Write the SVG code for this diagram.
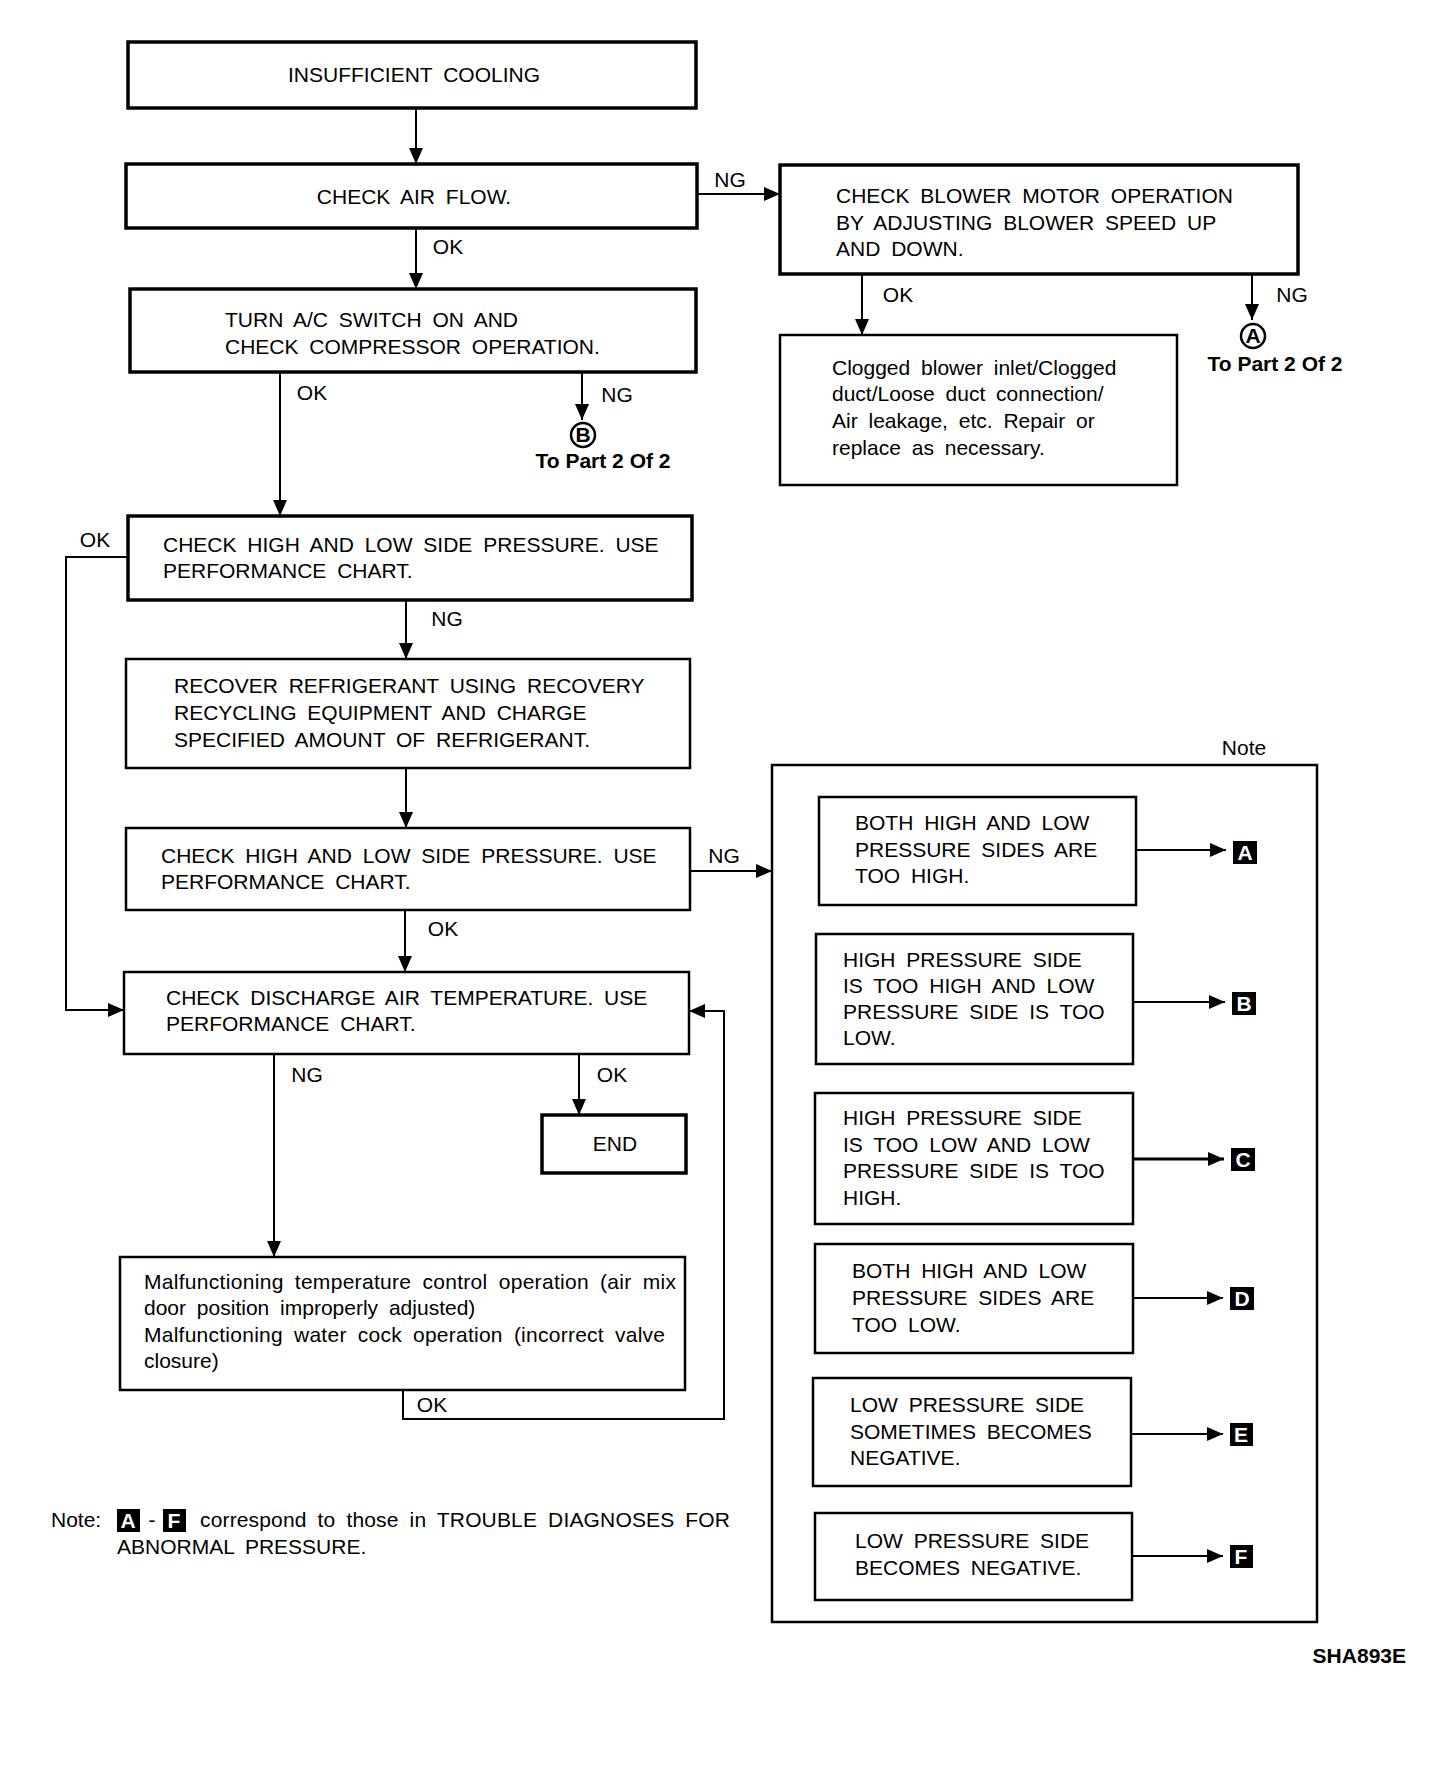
<svg xmlns="http://www.w3.org/2000/svg" width="1440" height="1768" viewBox="0 0 1440 1768">
<style>
text{font-family:"Liberation Sans",Arial,sans-serif;font-size:21px;fill:#000;word-spacing:5px}
.thick{fill:#fff;stroke:#000;stroke-width:3.5}
.med{fill:#fff;stroke:#000;stroke-width:2.5}
.frame{fill:none;stroke:#000;stroke-width:2.5}
.c{fill:none;stroke:#000;stroke-width:2}
.cb{fill:none;stroke:#000;stroke-width:3}
.mid{text-anchor:middle}
.bold{font-weight:bold;word-spacing:0}
.lb{fill:#000}
.lt{fill:#fff;font-weight:bold;font-size:21px;text-anchor:middle;word-spacing:0}
.circ{fill:#fff;stroke:#000;stroke-width:2.5}
</style>
<defs>
<marker id="ah" viewBox="0 0 16 14" refX="16" refY="7" markerWidth="16" markerHeight="14" markerUnits="userSpaceOnUse" orient="auto">
<path d="M0,0 L16,7 L0,14 z" fill="#000"/>
</marker>
</defs>
<rect width="1440" height="1768" fill="#fff"/>

<g id="n-insufficient">
<rect class="thick" x="128" y="42" width="568" height="66"/>
<text x="414" y="82" class="mid">INSUFFICIENT COOLING</text>
</g>
<g id="n-airflow">
<rect class="thick" x="126" y="164" width="571" height="64"/>
<text x="414" y="204" class="mid">CHECK AIR FLOW.</text>
</g>
<g id="n-blower">
<rect class="thick" x="780" y="165" width="518" height="109"/>
<text x="836" y="203">CHECK BLOWER MOTOR OPERATION</text>
<text x="836" y="230">BY ADJUSTING BLOWER SPEED UP</text>
<text x="836" y="256">AND DOWN.</text>
</g>
<g id="n-clogged">
<rect class="med" x="780" y="335" width="397" height="150"/>
<text x="832" y="375">Clogged blower inlet/Clogged</text>
<text x="832" y="401">duct/Loose duct connection/</text>
<text x="832" y="428">Air leakage, etc. Repair or</text>
<text x="832" y="455">replace as necessary.</text>
</g>
<g id="n-partA">
<circle class="circ" cx="1253" cy="336" r="12"/>
<text x="1253" y="343" class="mid bold" font-size="19">A</text>
<text x="1275" y="371" class="mid bold" font-size="20">To Part 2 Of 2</text>
</g>
<g id="n-turn">
<rect class="thick" x="130" y="289" width="566" height="83"/>
<text x="225" y="327">TURN A/C SWITCH ON AND</text>
<text x="225" y="354">CHECK COMPRESSOR OPERATION.</text>
</g>
<g id="n-partB">
<circle class="circ" cx="583" cy="435" r="12"/>
<text x="583" y="442" class="mid bold" font-size="19">B</text>
<text x="603" y="468" class="mid bold" font-size="20">To Part 2 Of 2</text>
</g>
<g id="n-hl1">
<rect class="thick" x="128" y="516" width="564" height="84"/>
<text x="163" y="552">CHECK HIGH AND LOW SIDE PRESSURE. USE</text>
<text x="163" y="578">PERFORMANCE CHART.</text>
</g>
<g id="n-recover">
<rect class="med" x="126" y="659" width="564" height="109"/>
<text x="174" y="693">RECOVER REFRIGERANT USING RECOVERY</text>
<text x="174" y="720">RECYCLING EQUIPMENT AND CHARGE</text>
<text x="174" y="747">SPECIFIED AMOUNT OF REFRIGERANT.</text>
</g>
<g id="n-hl2">
<rect class="med" x="126" y="828" width="564" height="82"/>
<text x="161" y="863">CHECK HIGH AND LOW SIDE PRESSURE. USE</text>
<text x="161" y="889">PERFORMANCE CHART.</text>
</g>
<g id="n-discharge">
<rect class="med" x="124" y="972" width="565" height="82"/>
<text x="166" y="1005">CHECK DISCHARGE AIR TEMPERATURE. USE</text>
<text x="166" y="1031">PERFORMANCE CHART.</text>
</g>
<g id="n-end">
<rect class="thick" x="542" y="1115" width="144" height="58"/>
<text x="615" y="1151" class="mid">END</text>
</g>
<g id="n-malfunction">
<rect class="med" x="120" y="1257" width="565" height="133"/>
<text x="144" y="1289" textLength="532" lengthAdjust="spacing">Malfunctioning temperature control operation (air mix</text>
<text x="144" y="1315">door position improperly adjusted)</text>
<text x="144" y="1342" textLength="521" lengthAdjust="spacing">Malfunctioning water cock operation (incorrect valve</text>
<text x="144" y="1368">closure)</text>
</g>

<g id="n-note">
<rect class="frame" x="772" y="765" width="545" height="857"/>
<text x="1244" y="755" class="mid" font-size="18">Note</text>
</g>
<g id="n-a">
<rect class="med" x="819" y="797" width="317" height="108"/>
<text x="855" y="830">BOTH HIGH AND LOW</text>
<text x="855" y="857">PRESSURE SIDES ARE</text>
<text x="855" y="883">TOO HIGH.</text>
<rect class="lb" x="1233" y="841" width="24" height="23"/>
<text x="1245" y="860" class="lt">A</text>
</g>
<g id="n-b">
<rect class="med" x="816" y="934" width="317" height="130"/>
<text x="843" y="967">HIGH PRESSURE SIDE</text>
<text x="843" y="993">IS TOO HIGH AND LOW</text>
<text x="843" y="1019">PRESSURE SIDE IS TOO</text>
<text x="843" y="1045">LOW.</text>
<rect class="lb" x="1232" y="992" width="24" height="23"/>
<text x="1244" y="1011" class="lt">B</text>
</g>
<g id="n-c">
<rect class="med" x="815" y="1093" width="318" height="131"/>
<text x="843" y="1125">HIGH PRESSURE SIDE</text>
<text x="843" y="1152">IS TOO LOW AND LOW</text>
<text x="843" y="1178">PRESSURE SIDE IS TOO</text>
<text x="843" y="1205">HIGH.</text>
<rect class="lb" x="1231" y="1148" width="24" height="23"/>
<text x="1243" y="1167" class="lt">C</text>
</g>
<g id="n-d">
<rect class="med" x="815" y="1244" width="318" height="109"/>
<text x="852" y="1278">BOTH HIGH AND LOW</text>
<text x="852" y="1305">PRESSURE SIDES ARE</text>
<text x="852" y="1332">TOO LOW.</text>
<rect class="lb" x="1230" y="1287" width="24" height="23"/>
<text x="1242" y="1306" class="lt">D</text>
</g>
<g id="n-e">
<rect class="med" x="813" y="1378" width="318" height="108"/>
<text x="850" y="1412">LOW PRESSURE SIDE</text>
<text x="850" y="1439">SOMETIMES BECOMES</text>
<text x="850" y="1465">NEGATIVE.</text>
<rect class="lb" x="1230" y="1423" width="23" height="23"/>
<text x="1241" y="1442" class="lt">E</text>
</g>
<g id="n-f">
<rect class="med" x="815" y="1513" width="317" height="87"/>
<text x="855" y="1548">LOW PRESSURE SIDE</text>
<text x="855" y="1575">BECOMES NEGATIVE.</text>
<rect class="lb" x="1230" y="1545" width="23" height="23"/>
<text x="1241" y="1564" class="lt">F</text>
</g>

<g id="connectors">
<path class="c" d="M416,108 V164" marker-end="url(#ah)"/>
<path class="c" d="M697,194 H780" marker-end="url(#ah)"/>
<path class="c" d="M416,228 V289" marker-end="url(#ah)"/>
<path class="c" d="M862,274 V335" marker-end="url(#ah)"/>
<path class="c" d="M1252,274 V320" marker-end="url(#ah)"/>
<path class="c" d="M582,372 V420" marker-end="url(#ah)"/>
<path class="c" d="M280,372 V516" marker-end="url(#ah)"/>
<path class="c" d="M128,557 H66 V1010 H124" marker-end="url(#ah)"/>
<path class="c" d="M406,600 V659" marker-end="url(#ah)"/>
<path class="c" d="M406,768 V828" marker-end="url(#ah)"/>
<path class="c" d="M690,871 H772" marker-end="url(#ah)"/>
<path class="c" d="M405,910 V972" marker-end="url(#ah)"/>
<path class="c" d="M274,1054 V1257" marker-end="url(#ah)"/>
<path class="c" d="M579,1054 V1115" marker-end="url(#ah)"/>
<path class="c" d="M403,1390 V1419 H724 V1011 H689" marker-end="url(#ah)"/>
<path class="c" d="M1136,850 H1226" marker-end="url(#ah)"/>
<path class="c" d="M1133,1002 H1225" marker-end="url(#ah)"/>
<path class="cb" d="M1133,1159 H1224" marker-end="url(#ah)"/>
<path class="c" d="M1133,1298 H1223" marker-end="url(#ah)"/>
<path class="c" d="M1131,1434 H1223" marker-end="url(#ah)"/>
<path class="c" d="M1132,1556 H1223" marker-end="url(#ah)"/>
<text x="730" y="187" class="mid">NG</text>
<text x="448" y="254" class="mid">OK</text>
<text x="898" y="302" class="mid">OK</text>
<text x="1292" y="302" class="mid">NG</text>
<text x="312" y="400" class="mid">OK</text>
<text x="617" y="402" class="mid">NG</text>
<text x="95" y="547" class="mid">OK</text>
<text x="447" y="626" class="mid">NG</text>
<text x="724" y="863" class="mid">NG</text>
<text x="443" y="936" class="mid">OK</text>
<text x="307" y="1082" class="mid">NG</text>
<text x="612" y="1082" class="mid">OK</text>
<text x="432" y="1412" class="mid">OK</text>
</g>

<g id="footnote">
<text x="51" y="1527">Note:</text>
<rect class="lb" x="117" y="1509" width="23" height="23"/>
<text x="128" y="1528" class="lt">A</text>
<text x="152" y="1527" class="mid">-</text>
<rect class="lb" x="163" y="1509" width="23" height="23"/>
<text x="174" y="1528" class="lt">F</text>
<text x="200" y="1527" textLength="530" lengthAdjust="spacing">correspond to those in TROUBLE DIAGNOSES FOR</text>
<text x="117" y="1554">ABNORMAL PRESSURE.</text>
</g>
<text x="1406" y="1663" text-anchor="end" font-size="19" font-weight="bold" style="word-spacing:0">SHA893E</text>
</svg>
